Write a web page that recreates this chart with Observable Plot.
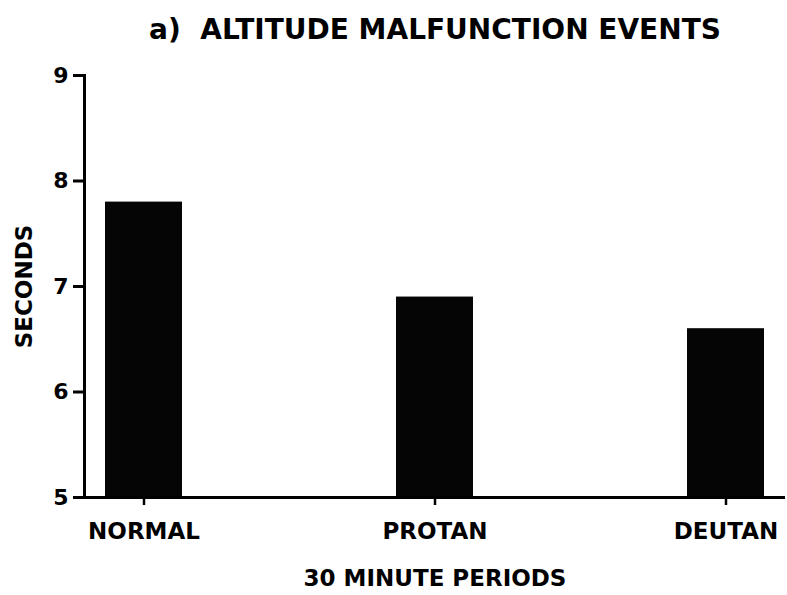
<!DOCTYPE html>
<html>
<head>
<meta charset="utf-8">
<script src="https://cdn.jsdelivr.net/npm/d3@7"></script>
<script src="https://cdn.jsdelivr.net/npm/@observablehq/plot@0.6"></script>
<style>
  html, body { margin: 0; padding: 0; background: #fff; }
</style>
</head>
<body>
<div id="chart"></div>
<script>
const titleText = "a)  ALTITUDE MALFUNCTION EVENTS";
const xLabel = "30 MINUTE PERIODS";
const yLabel = "SECONDS";
const categories = ["NORMAL", "PROTAN", "DEUTAN"];
const seconds = [7.8, 6.9, 6.6];
const yTicks = [5, 6, 7, 8, 9];
const yBase = 5;

const data = categories.map((c, i) => ({ cat: c, value: seconds[i] }));

const chart = Plot.plot({
  width: 787,
  height: 595,
  marginTop: 75,
  marginBottom: 98,
  marginLeft: 84,
  marginRight: 2,
  style: { fontFamily: "DejaVu Sans", fontWeight: "bold", color: "black", background: "white" },
  x: { domain: categories, paddingInner: 0.736, paddingOuter: 0.07, label: null },
  y: { domain: [5, 9], label: null },
  marks: [
    Plot.barY(data, { x: "cat", y1: () => yBase, y2: "value", fill: "#050505" }),
    Plot.ruleY([yBase], { stroke: "black", strokeWidth: 3 }),
    Plot.frame({ anchor: "left", stroke: "black", strokeWidth: 3 }),
    Plot.axisY({ ticks: yTicks, tickSize: 11, tickPadding: 5, strokeWidth: 3, fontSize: 22, fontWeight: "bold", label: null, tickFormat: d3.format("d") }),
    Plot.axisX({ tickSize: 8, tickPadding: 17, strokeWidth: 2.5, fontSize: 23, fontWeight: "bold", label: null }),
    Plot.text([titleText], { frameAnchor: "top", dy: -56, fontSize: 28, fontWeight: "bold", fill: "black" }),
    Plot.text([xLabel], { frameAnchor: "bottom", dy: 88, fontSize: 23, fontWeight: "bold", fill: "black" }),
    Plot.text([yLabel], { frameAnchor: "left", textAnchor: "middle", rotate: -90, dx: -60, fontSize: 23, fontWeight: "bold", fill: "black" })
  ]
});
document.getElementById("chart").appendChild(chart);
</script>
</body>
</html>
